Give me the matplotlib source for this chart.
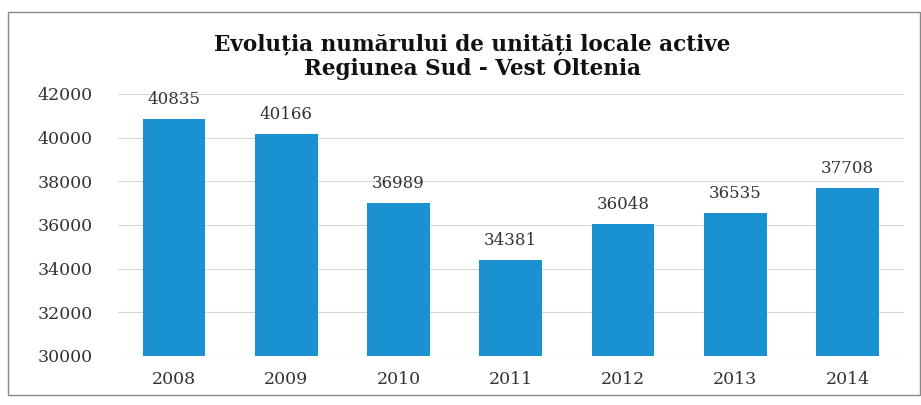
import matplotlib.pyplot as plt
from matplotlib.patches import Rectangle

# date
years = ['2008', '2009', '2010', '2011', '2012', '2013', '2014']
unitati = [40835, 40166, 36989, 34381, 36048, 36535, 37708]
y_ticks = [30000, 32000, 34000, 36000, 38000, 40000, 42000]

fig = plt.figure(figsize=(9.21, 4.05), dpi=100)
ax = fig.add_axes([0.128, 0.121, 0.853, 0.647])

bars = ax.bar(years, unitati, width=0.56, color='#1a91d0', zorder=3)

# etichete valori deasupra barelor
for b, v in zip(bars, unitati):
    ax.text(b.get_x() + b.get_width() / 2, v + 500, str(v),
            ha='center', va='bottom', fontsize=12, color='#333333',
            family='DejaVu Serif')

ax.set_ylim(30000, 42000)
ax.set_xlim(-0.5, len(years) - 0.5)
ax.set_yticks(y_ticks)
ax.grid(axis='y', color='#d8d8d8', linewidth=0.8, zorder=0)
for s in ax.spines.values():
    s.set_visible(False)
ax.tick_params(axis='y', length=0, labelsize=12.5, colors='#333333', pad=18)
ax.tick_params(axis='x', length=0, labelsize=12.5, colors='#333333', pad=11)
for lab in ax.get_xticklabels() + ax.get_yticklabels():
    lab.set_family('DejaVu Serif')

# titlu
fig.text(0.513, 0.89, 'Evoluția numărului de unități locale active',
         ha='center', va='center', fontsize=15.5, fontweight='bold',
         family='DejaVu Serif', color='#111111')
fig.text(0.513, 0.83, 'Regiunea Sud - Vest Oltenia',
         ha='center', va='center', fontsize=15.5, fontweight='bold',
         family='DejaVu Serif', color='#111111')

# chenar
fig.patches.append(Rectangle((0.009, 0.025), 0.99, 0.945, transform=fig.transFigure,
                             fill=False, edgecolor='#888888', linewidth=1))

plt.savefig('out.png', dpi=100)
